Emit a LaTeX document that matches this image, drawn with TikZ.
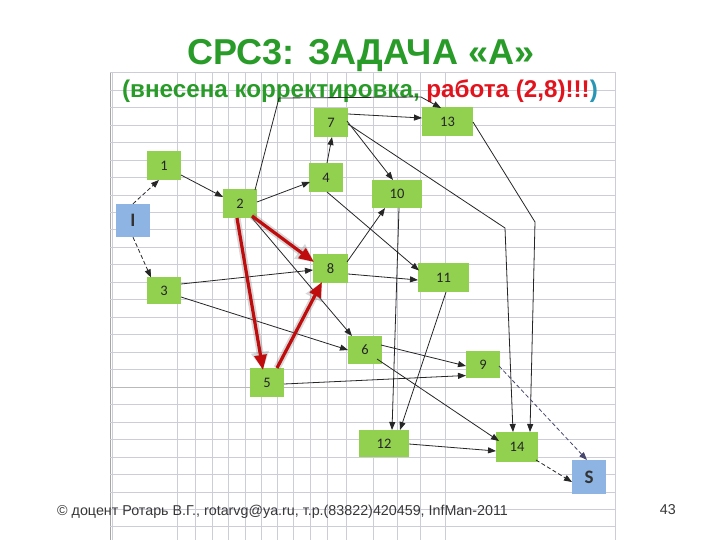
\documentclass[tikz,border=0pt]{standalone}
\usepackage{fontspec}
\setmainfont{Liberation Sans}
\newfontfamily\calib{Carlito}
\usetikzlibrary{arrows.meta}
\definecolor{ttlgreen}{RGB}{40,155,40}
\definecolor{subred}{RGB}{225,20,30}
\definecolor{subteal}{RGB}{40,150,180}
\definecolor{nodegreen}{RGB}{146,208,80}
\definecolor{nodeblue}{RGB}{141,180,226}
\definecolor{gridc}{RGB}{205,205,215}
\definecolor{redarr}{RGB}{192,12,12}
\definecolor{footc}{RGB}{55,55,55}
\definecolor{dashblue}{RGB}{70,70,110}
\begin{document}
\begin{tikzpicture}[x=1pt,y=-1pt,
  gbox/.style={fill=nodegreen, minimum width=34pt, minimum height=29pt, inner sep=0pt,
    font=\calib\fontsize{14.5}{14.5}\selectfont, text=black!85},
  wbox/.style={gbox, minimum width=51pt},
  bbox/.style={fill=nodeblue, minimum width=34pt, minimum height=33pt, inner sep=0pt,
    font=\calib\bfseries\fontsize{19}{19}\selectfont, text=black!80},
  conn/.style={draw=black!85, line width=0.8pt, -{Triangle[length=8pt,width=6pt]}},
  dconn/.style={conn, dash pattern=on 4pt off 2.5pt},
  redc/.style={draw=redarr, line width=3.2pt, -{Triangle[length=15pt,width=12pt]}},
  redglow/.style={draw=gray, opacity=0.3, line width=7pt, -{Triangle[length=18pt,width=17pt]}},
  gridl/.style={draw=gridc, line width=0.6pt}
]
\fill[white] (0,0) rectangle (720,540);
\useasboundingbox (0,0) rectangle (720,540);

% grid
\foreach \x in {112,177,195,212,228,245,261,277,293,310,327,346,373,397,420,445,615}
  \draw[gridl] (\x,72.5) -- (\x,540);
\draw[draw=gray!70, line width=0.7pt] (110,72.5) -- (110,540);
\draw[gridl] (110,72.5) -- (615,72.5);
\foreach \i in {0,...,25}
  \draw[gridl] (110,90+17.47*\i) -- (615,90+17.47*\i);
\draw[draw=gray!55, line width=0.9pt] (110,387) -- (615,387);

% titles
\node[anchor=base, font=\bfseries\fontsize{36}{36}\selectfont, text=ttlgreen] (title) at (361,65) {СРС3: ЗАДАЧА «А»};
\node[anchor=base, font=\bfseries\fontsize{24.2}{24.2}\selectfont] (sub) at (360,97.5)
  {\textcolor{ttlgreen}{(внесена корректировка, }\textcolor{subred}{работа (2,8)!!!}\textcolor{subteal}{)}};

% nodes
\node[bbox] (I) at (133,220.5) {I};
\node[gbox] (n1) at (164,166) {1};
\node[gbox] (n2) at (240,203.5) {2};
\node[gbox] (n4) at (326,177.5) {4};
\node[gbox] (n7) at (331,122.5) {7};
\node[wbox] (n13) at (447.5,121.5) {13};
\node[wbox, minimum width=50pt, minimum height=28pt] (n10) at (397,194) {10};
\node[gbox, minimum width=35pt] (n8) at (330.5,268.5) {8};
\node[wbox] (n11) at (443.5,277.5) {11};
\node[gbox, minimum height=27pt] (n3) at (164,290.5) {3};
\node[gbox, minimum height=28pt] (n6) at (365,350) {6};
\node[gbox, minimum height=27pt] (n9) at (483,364.5) {9};
\node[gbox] (n5) at (267,382.5) {5};
\node[wbox, minimum width=50pt, minimum height=27pt] (n12) at (384,443.5) {12};
\node[gbox, minimum width=42pt, minimum height=30pt] (n14) at (517,447) {14};
\node[bbox, minimum height=34pt] (S) at (589,477) {S};

% bend points
\coordinate (b1) at (279,98);
\coordinate (b2) at (421,97);
\coordinate (b3) at (505,228);
\coordinate (b4) at (535,222);

% black connectors
\draw[dconn] (I.north) -- ([shift={(-5,14)}]n1.center);
\draw[dconn] (I.south) -- ([shift={(-13,-13)}]n3.center);
\draw[conn] ([shift={(17,9)}]n1.center) -- ([shift={(-17,-6.5)}]n2.center);
\draw[conn] ([shift={(17,-1.5)}]n2.center) -- ([shift={(-16,4.5)}]n4.center);
\draw[conn] ([shift={(15,-13.5)}]n2.center) -- (b1) -- (b2) -- ([shift={(-6.5,-13.5)}]n13.center);
\draw[conn] ([shift={(1,-14.5)}]n4.center) -- ([shift={(1,14.5)}]n7.center);
\draw[conn] ([shift={(1,14.5)}]n4.center) -- ([shift={(-24.5,-7)}]n11.center);
\draw[conn] ([shift={(17,-8.5)}]n7.center) -- ([shift={(-25.5,-3.5)}]n13.center);
\draw[conn] ([shift={(16,-1.5)}]n7.center) -- ([shift={(-4,-14)}]n10.center);
\draw[conn] ([shift={(17,1.5)}]n7.center) -- (b3) -- ([shift={(-4,-15)}]n14.center);
\draw[conn] ([shift={(25.5,0.5)}]n13.center) -- (b4) -- ([shift={(13,-15)}]n14.center);
\draw[conn] ([shift={(2,14)}]n10.center) -- ([shift={(8,-13.5)}]n12.center);
\draw[conn] ([shift={(2.5,14.5)}]n11.center) -- ([shift={(16,-13.5)}]n12.center);
\draw[conn] ([shift={(16.5,-6.5)}]n8.center) -- ([shift={(-12,14)}]n10.center);
\draw[conn] ([shift={(17.5,5.5)}]n8.center) -- ([shift={(-25.5,2.5)}]n11.center);
\draw[conn] ([shift={(17,-6.5)}]n3.center) -- ([shift={(-17.5,1.5)}]n8.center);
\draw[conn] ([shift={(17,6.5)}]n3.center) -- ([shift={(-17,0)}]n6.center);
\draw[conn] ([shift={(12,14.5)}]n2.center) -- ([shift={(-13,-14)}]n6.center);
\draw[conn] ([shift={(16,-5)}]n6.center) -- ([shift={(-17,1.5)}]n9.center);
\draw[conn] ([shift={(12,9)}]n6.center) -- ([shift={(-18,-6)}]n14.center);
\draw[conn] ([shift={(17,1.5)}]n5.center) -- ([shift={(-17,11)}]n9.center);
\draw[conn] ([shift={(25,0.5)}]n12.center) -- ([shift={(-21,4)}]n14.center);
\draw[dconn, draw=dashblue] ([shift={(16,1.5)}]n9.center) -- ([shift={(-2,-17)}]S.center);
\draw[dconn] ([shift={(19,13)}]n14.center) -- ([shift={(-17,5)}]S.center);

% red critical connectors
\draw[redglow] ([shift={(12,12.5)}]n2.center) -- ([shift={(-16.5,-6.5)}]n8.center);
\draw[redglow] ([shift={(-3,14.5)}]n2.center) -- ([shift={(-4,-12.5)}]n5.center);
\draw[redglow] ([shift={(10,-14.5)}]n5.center) -- ([shift={(-8.5,13.5)}]n8.center);
\draw[redc] ([shift={(12,12.5)}]n2.center) -- ([shift={(-16.5,-6.5)}]n8.center);
\draw[redc] ([shift={(-3,14.5)}]n2.center) -- ([shift={(-4,-12.5)}]n5.center);
\draw[redc] ([shift={(10,-14.5)}]n5.center) -- ([shift={(-8.5,13.5)}]n8.center);

% footer
\node[anchor=base west, inner sep=0pt, font=\fontsize{14.3}{14.3}\selectfont, text=footc] (foot) at (57,515)
  {© доцент Ротарь В.Г., rotarvg@ya.ru, т.р.(83822)420459, InfMan-2011};
\node[anchor=base east, inner sep=0pt, font=\fontsize{14.3}{14.3}\selectfont, text=footc] (pg) at (676,514) {43};
\end{tikzpicture}
\end{document}
